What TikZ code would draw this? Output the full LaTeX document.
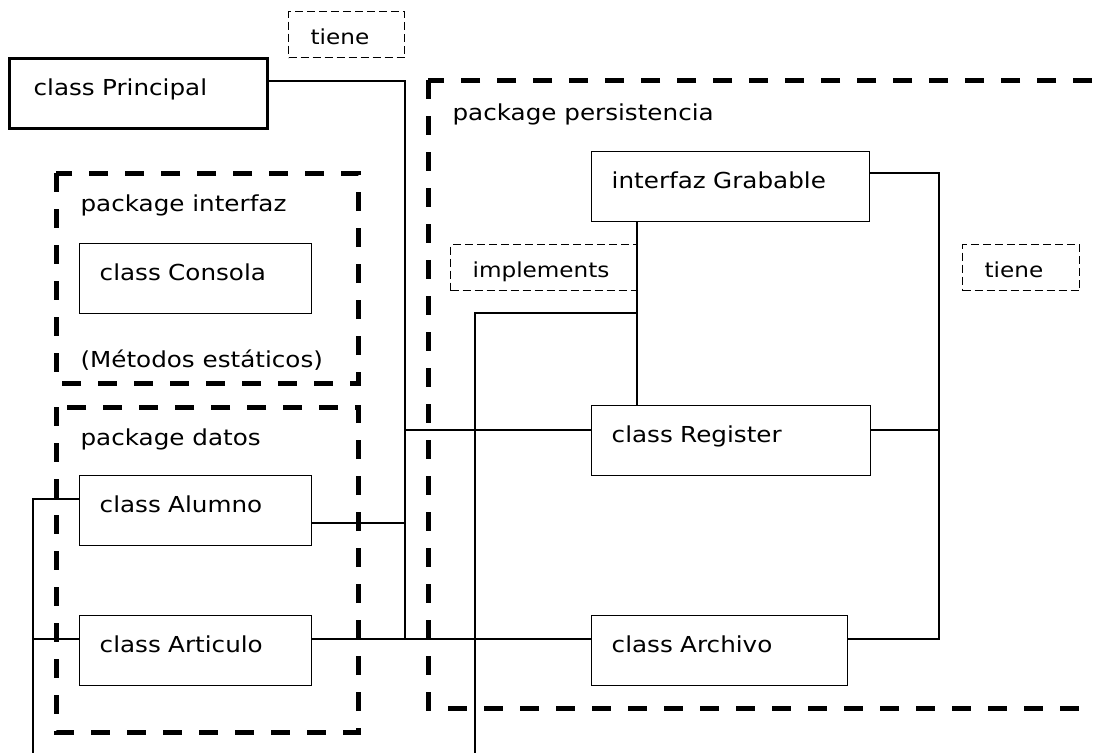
\documentclass[tikz,border=0pt]{standalone}
\usepackage{fontspec}
\setmainfont{DejaVu Sans}[FakeStretch=1.12]
\newcommand{\boxfont}{\fontsize{16.5pt}{20pt}\selectfont}
\newcommand{\tagfont}{\fontsize{15.5pt}{19pt}\selectfont}

\tikzset{every picture/.style={line width=0.75pt}}
\tikzset{
  classbox/.style={draw, line width=1.1pt, anchor=north west, align=left, inner xsep=15pt, inner ysep=0pt,
    text height=27.75pt, text depth=24.75pt, text width=#1, font=\boxfont},
  mainbox/.style={classbox=#1, line width=2.4pt, inner xsep=18pt},
  tagbox/.style={draw, line width=0.9pt, dash pattern=on 6pt off 3pt, anchor=north west, align=left,
    inner xsep=16.5pt, inner ysep=0pt, text height=25pt, text depth=9.5pt, text width=#1, font=\tagfont},
  pkg/.style={line width=3.75pt, dash pattern=on 14.5pt off 12.5pt},
  pkglabel/.style={anchor=base west, inner sep=0pt, font=\boxfont},
  link/.style={line width=1.1pt}
}

\begin{document}
\begin{tikzpicture}[x=0.75pt,y=0.75pt,yscale=-1,xscale=1]
	\useasboundingbox (0,0) rectangle (1093,753);
	\clip (0,0) rectangle (1093,753);

	%Shape: Package interfaz
	\draw [pkg] (56,173) rectangle (358,383) ;
	%Shape: Package datos
	\draw [pkg] (56,407) rectangle (358,732) ;
	%Shape: Package persistencia
	\draw [pkg] (428,80) rectangle (1140,708) ;

	% Text Node
	\node [pkglabel] (lblinterfaz) at (80,211) {package interfaz};
	% Text Node
	\node [pkglabel] (lblmetodos) at (80,367) {(Métodos estáticos)};
	% Text Node
	\node [pkglabel] (lbldatos) at (80,445) {package datos};
	% Text Node
	\node [pkglabel] (lblpersistencia) at (452,120) {package persistencia};

	%Shape: Classes
	\node [mainbox=157.5pt] (principal) at (8,57) {class Principal};
	\node [classbox=144pt] (consola) at (79,243) {class Consola};
	\node [classbox=144pt] (alumno) at (79,475) {class Alumno};
	\node [classbox=144pt] (articulo) at (79,615) {class Articulo};
	\node [classbox=178.5pt] (grabable) at (591,151) {interfaz Grabable};
	\node [classbox=179.25pt] (register) at (591,405) {class Register};
	\node [classbox=162pt] (archivo) at (591,615) {class Archivo};

	%Shape: Relation tags
	\node [tagbox=54pt] (tiene) at (288,11) {tiene};
	\node [tagbox=106.5pt] (implements) at (450,244) {implements};
	\node [tagbox=54.75pt] (tieneb) at (962,244) {tiene};

	% Junctions
	\coordinate (jp) at (405,81);
	\coordinate (jal) at (405,523);
	\coordinate (jr) at (405,430);
	\coordinate (ja) at (405,639);
	\coordinate (rtop) at (939,173);
	\coordinate (rbot) at (939,639);
	\coordinate (ji) at (637,313);
	\coordinate (jimp) at (475,313);
	\coordinate (impend) at (475,753);
	\coordinate (lt) at (33,499);
	\coordinate (lb) at (33,753);

	%Straight Lines: tiene
	\draw [link] (principal.east |- jp) -- (jp) -- (ja) ;
	\draw [link] (alumno.east |- jal) -- (jal) ;
	\draw [link] (articulo.east |- ja) -- (archivo.west |- ja) ;
	\draw [link] (jr) -- (register.west |- jr) ;
	%Straight Lines: tiene (persistencia)
	\draw [link] (grabable.east |- rtop) -- (rtop) -- (rbot) -- (archivo.east |- rbot) ;
	\draw [link] (register.east |- jr) -- (jr -| rtop) ;
	%Straight Lines: implements
	\draw [link] (grabable.south -| ji) -- (register.north -| ji) ;
	\draw [link] (ji) -- (jimp) -- (impend) ;
	%Straight Lines: left side
	\draw [link] (alumno.west |- lt) -- (lt) -- (lb) ;
	\draw [link] (articulo.west |- ja) -- (lt |- ja) ;

\end{tikzpicture}
\end{document}
